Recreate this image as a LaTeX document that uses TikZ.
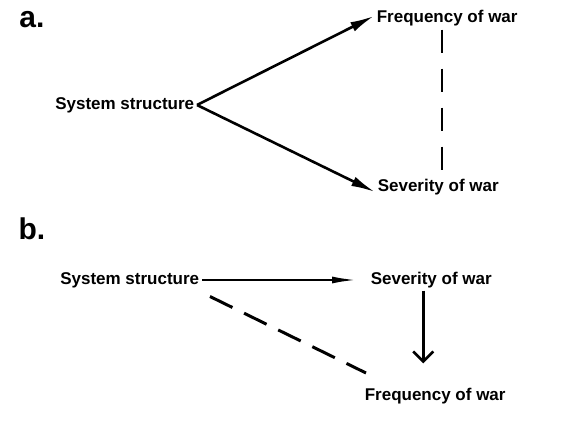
\documentclass[tikz,border=0pt]{standalone}
\usepackage{fontspec}
\setmainfont{Liberation Sans}
\usetikzlibrary{arrows.meta}

\begin{document}
\begin{tikzpicture}[x=1pt, y=-1pt, line width=2.6pt]
  \tikzstyle{tag} = [font=\fontsize{30}{32}\selectfont\bfseries, inner sep=0pt]
  \tikzstyle{term} = [font=\fontsize{17}{19}\selectfont\bfseries, inner sep=1.5pt]
  \tikzstyle{arr} = [-{Latex[length=24pt, width=10pt]}]
  \tikzstyle{thinarr} = [line width=2pt, -{Latex[length=24pt, width=7pt]}]

  \useasboundingbox (0,0) rectangle (566,430);

  % a.
  \node[tag] (taga) at (32,20) {a.};
  \node[term, anchor=east] (sysa) at (197,105) {System structure};
  \node[term, anchor=west] (freqa) at (374,18) {Frequency of war};
  \node[term, anchor=west] (seva) at (375,187) {Severity of war};

  \draw[arr] (sysa.east) -- ([yshift=2pt]freqa.west);
  \draw[arr] (sysa.east) -- ([yshift=-5pt]seva.west);
  \draw[line width=2.2pt, dash pattern=on 23pt off 16pt] ([xshift=4pt, yshift=-1pt]seva.north |- freqa.south) -- ([xshift=4pt, yshift=3pt]seva.north);

  % b.
  \node[tag] (tagb) at (32,229) {b.};
  \node[term, anchor=east] (sysb) at (202,280) {System structure};
  \node[term, anchor=west] (sevb) at (368,280) {Severity of war};
  \node[term, anchor=west] (freqb) at (362,396) {Frequency of war};
  \coordinate (endb) at (366,373);

  \draw[thinarr] (sysb.east) -- ([xshift=-12pt]sevb.west);
  \draw[-{Straight Barb[length=10pt, width=20pt]}] ([xshift=-8pt]sevb.south) -- ([xshift=-8pt, yshift=22pt]sevb.south |- freqb.north);
  \draw[line width=3pt, dash pattern=on 25pt off 13pt] ([shift={(8pt,-6pt)}]sysb.south east) -- (endb);
\end{tikzpicture}
\end{document}
